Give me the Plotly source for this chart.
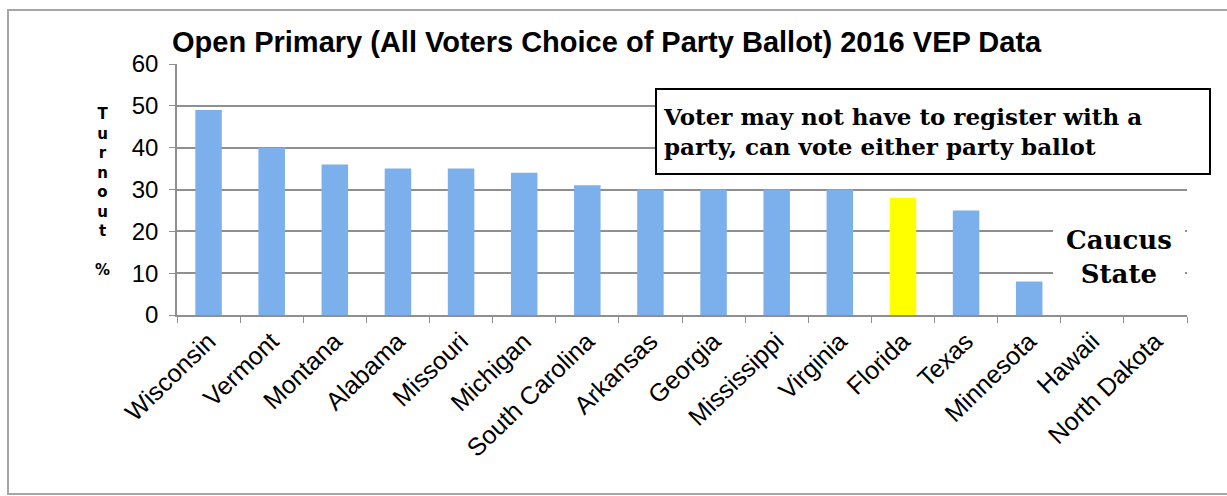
import plotly.graph_objects as go

states = ["Wisconsin", "Vermont", "Montana", "Alabama", "Missouri", "Michigan",
          "South Carolina", "Arkansas", "Georgia", "Mississippi", "Virginia",
          "Florida", "Texas", "Minnesota", "Hawaii", "North Dakota"]
turnout = [49, 40, 36, 35, 35, 34, 31, 30, 30, 30, 30, 28, 25, 8, None, None]
highlight = "Florida"
y_ticks = [0, 10, 20, 30, 40, 50, 60]

W, H = 1227, 496
L, R, T, B = 177, 1187, 64, 315  # plot area in pixels


def px(x):
    return (x - L) / (R - L)


def py(y):
    return (B - y) / (B - T)


blue = "#7CB0EC"
colors = ["#FFFF00" if s == highlight else blue for s in states]

fig = go.Figure()
fig.add_trace(go.Bar(x=states, y=turnout, marker=dict(color=colors, line=dict(width=0)),
                     width=0.42, showlegend=False, hoverinfo="x+y"))

fig.update_layout(
    width=W, height=H,
    margin=dict(l=L, r=W - R, t=T, b=H - B),
    paper_bgcolor="white", plot_bgcolor="white",
    font=dict(family="Liberation Sans, Arial", color="black"),
    xaxis=dict(type="category", tickangle=-44, tickfont=dict(size=25, color="black"),
               showline=True, linecolor="#8f8f8f", linewidth=1.5,
               ticks="outside", tickson="boundaries", ticklen=6, tickcolor="#8f8f8f",
               showgrid=False),
    yaxis=dict(range=[0, 60], tickvals=y_ticks, tickfont=dict(size=24, color="black"),
               showline=True, linecolor="#8f8f8f", linewidth=1.5,
               ticks="outside", ticklen=6, tickcolor="#8f8f8f", ticklabelstandoff=6,
               showgrid=True, gridcolor="#8f8f8f", gridwidth=1.5, zeroline=False),
)

shapes = [
    # outer chart frame
    dict(type="rect", xref="paper", yref="paper", x0=px(8), x1=px(1240), y0=py(494), y1=py(10),
         line=dict(color="#a6a6a6", width=2), fillcolor="rgba(0,0,0,0)", layer="below"),
    # white background behind "Caucus State"
    dict(type="rect", xref="paper", yref="paper", x0=px(1053), x1=px(1185), y0=py(300), y1=py(212),
         line=dict(width=0), fillcolor="white", layer="above"),
]
fig.update_layout(shapes=shapes)

ann = [
    dict(text="<b>Open Primary (All Voters Choice of Party Ballot) 2016 VEP Data</b>",
         x=px(170), y=py(42), xref="paper", yref="paper", xanchor="left", yanchor="middle",
         showarrow=False, font=dict(size=29, family="Liberation Sans, Arial", color="black")),
    dict(text="<b>Voter may not have to register with a<br>party, can vote either party ballot</b>",
         x=px(655), y=py(131), xref="paper", yref="paper", xanchor="left", yanchor="middle",
         align="left", showarrow=False, bgcolor="white", bordercolor="black", borderwidth=2,
         borderpad=6, width=540, height=71, valign="middle",
         font=dict(size=23, family="DejaVu Serif", color="black")),
    dict(text="<b>Caucus<br>State</b>", x=px(1119), y=py(257), xref="paper", yref="paper",
         xanchor="center", yanchor="middle", showarrow=False,
         font=dict(size=26, family="DejaVu Serif", color="black")),
    dict(text="<b>" + "<br>".join(list("Turnout")) + "<br><br>%</b>",
         x=px(102), y=py(103), xref="paper", yref="paper", xanchor="center", yanchor="top",
         showarrow=False, font=dict(size=15, family="DejaVu Sans", color="black")),
]
fig.update_layout(annotations=ann)

fig.write_html("out.html")
